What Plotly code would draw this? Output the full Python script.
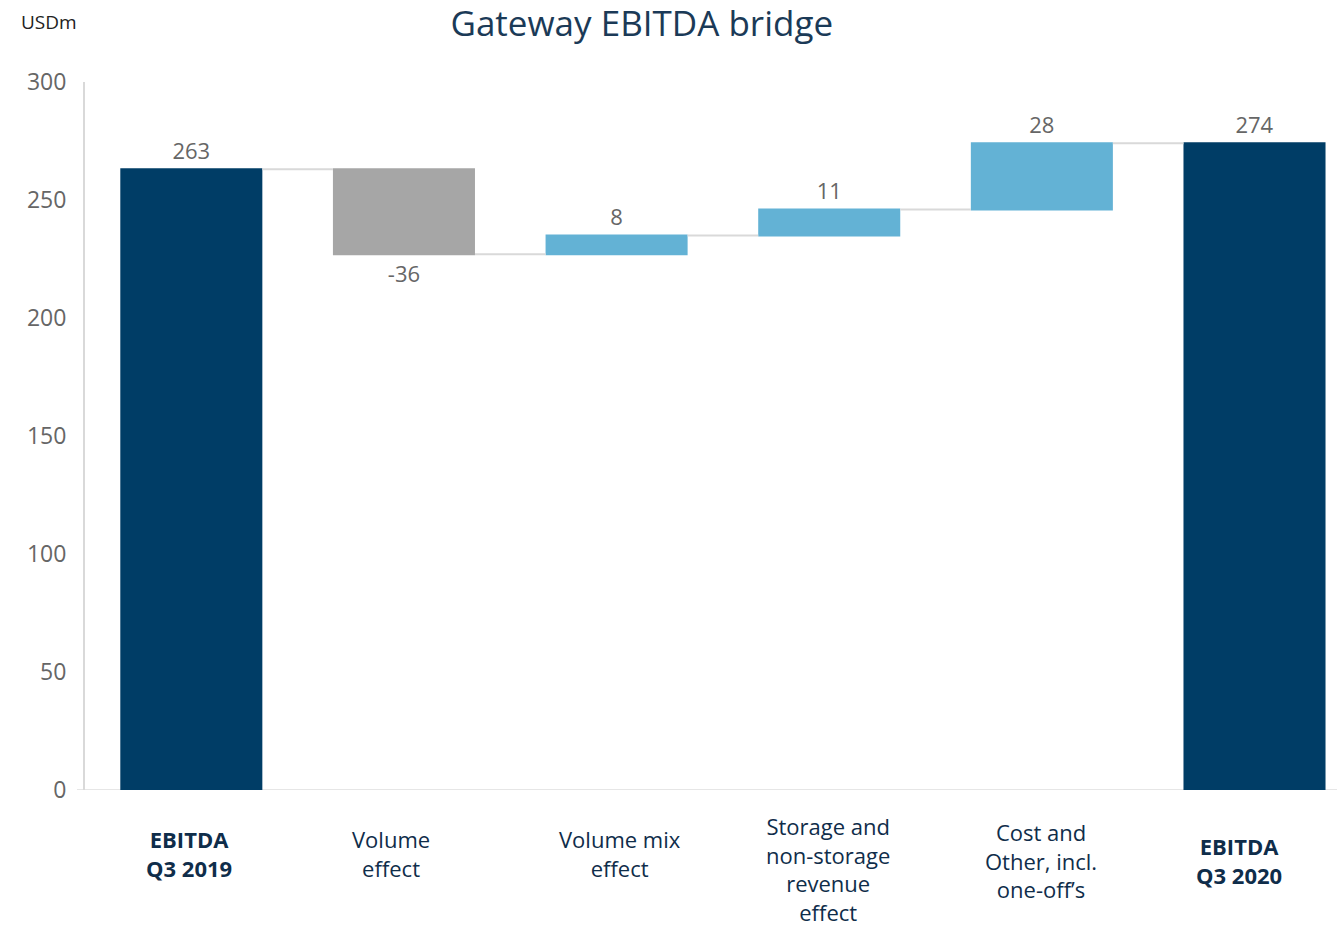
import plotly.graph_objects as go

# Bridge data (USDm)
categories = ["EBITDA<br>Q3 2019", "Volume<br>effect", "Volume mix<br>effect",
              "Storage and<br>non-storage<br>revenue<br>effect",
              "Cost and<br>Other, incl.<br>one-off’s", "EBITDA<br>Q3 2020"]
bold_flags = [True, False, False, False, False, True]
values = [263, -36, 8, 11, 28, 274]
measures = ["absolute", "relative", "relative", "relative", "relative", "total"]
y_ticks = [0, 50, 100, 150, 200, 250, 300]

NAVY = "#003d66"
LIGHT_BLUE = "#63b2d5"
GREY = "#a6a6a6"
TEXT_NAVY = "#0f2d4a"
TEXT_GREY = "#666666"
FONT = "Open Sans"

x_pos = list(range(len(categories)))

fig = go.Figure()
fig.add_trace(go.Waterfall(
    x=x_pos,
    y=values,
    measure=measures,
    width=0.668,
    text=[str(v) for v in values],
    textposition="outside",
    textfont=dict(family=FONT, size=22, color=TEXT_GREY),
    cliponaxis=False,
    increasing=dict(marker=dict(color=LIGHT_BLUE)),
    decreasing=dict(marker=dict(color=GREY)),
    totals=dict(marker=dict(color=NAVY)),
    connector=dict(line=dict(color="#d9d9d9", width=2)),
    hoverinfo="skip",
))

# Category labels beneath the bars
label_y = [-0.090, -0.090, -0.090, -0.111, -0.100, -0.099]
label_dx = [-2, -13, 3, -1, -1, -16]
for i, (cat, bold) in enumerate(zip(categories, bold_flags)):
    txt = "<b>" + cat.replace("<br>", "</b><br><b>") + "</b>" if bold else cat
    fig.add_annotation(
        x=i, y=label_y[i], xref="x", yref="paper",
        text=txt, showarrow=False, xanchor="center", yanchor="middle",
        xshift=label_dx[i], align="center", borderpad=0,
        font=dict(family=FONT, size=22, color=TEXT_NAVY),
    )

# Unit label in the top-left corner
fig.add_annotation(
    x=-0.053, y=1.085, xref="paper", yref="paper", text="USDm", showarrow=False,
    xanchor="left", yanchor="middle",
    font=dict(family=FONT, size=19, color="#222222"),
)

# Baseline running slightly left of the value axis
fig.add_shape(type="line", xref="paper", yref="y", x0=-0.0064, x1=1, y0=0, y1=0,
              line=dict(color="#e6e6e6", width=2), layer="below")

fig.update_layout(
    width=1337, height=931,
    margin=dict(l=85, r=0, t=82, b=141),
    paper_bgcolor="white", plot_bgcolor="white",
    showlegend=False,
    title=dict(text="Gateway EBITDA bridge", x=0.48, xanchor="center",
               y=0.975, yanchor="middle",
               font=dict(family=FONT, size=35, color="#1b3a57")),
    xaxis=dict(range=[-0.5, 5.388], showticklabels=False, showgrid=False,
               zeroline=False, showline=False, ticks=""),
    yaxis=dict(range=[0, 300], tickvals=y_ticks, showgrid=False, zeroline=False,
               showline=True, linecolor="#d9d9d9", linewidth=2,
               ticks="", ticklabelstandoff=12,
               tickfont=dict(family=FONT, size=23, color=TEXT_GREY)),
)

fig.write_html("out.html")
